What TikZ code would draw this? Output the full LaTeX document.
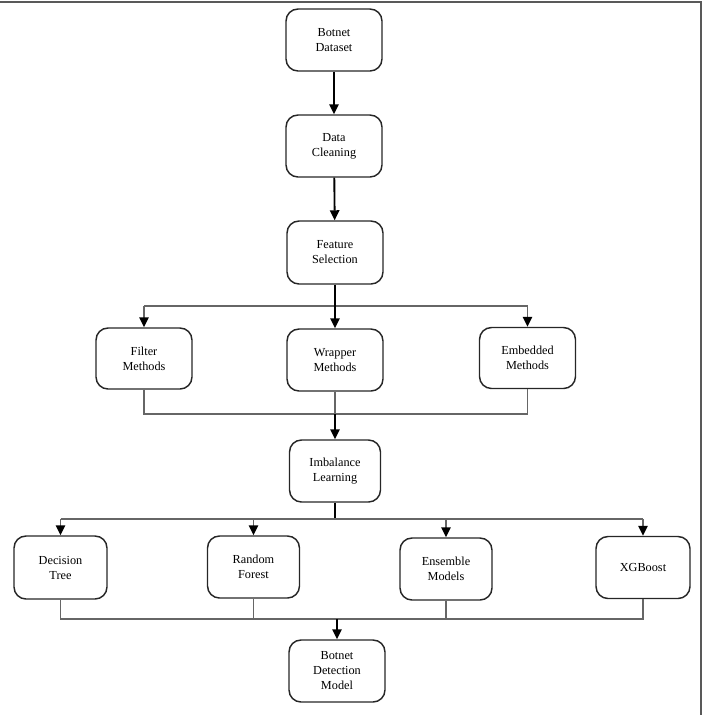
\documentclass[tikz,border=0pt]{standalone}
\usepackage{fontspec}
\setmainfont{Liberation Serif}
\newfontfamily\boxfont{Liberation Serif}
\usetikzlibrary{arrows.meta}
\begin{document}
\begin{tikzpicture}[x=0.75pt,y=-0.75pt,
  box/.style={draw=black!85, line width=1.1pt, rounded corners=9pt, minimum width=72pt, minimum height=46.5pt, align=center, font=\boxfont\fontsize{9.2}{11.25}\selectfont, inner sep=2pt},
  main/.style={draw=black, line width=1.4pt, -{Triangle[width=7pt,length=7.5pt]}},
  stem/.style={draw=black, line width=1.2pt},
  branch/.style={draw=black!60, line width=1.1pt},
  barrow/.style={branch, -{Triangle[width=7pt,length=7.5pt,color=black]}},
]
\useasboundingbox (0,0) rectangle (705,715);
\draw[black!65, line width=1.5pt] (0,1.5) -- (701,1.5) -- (701,715);

\node[box] (ds) at (334,40) {Botnet\\Dataset};
\node[box] (dc) at (334,146) {Data\\Cleaning};
\node[box, minimum height=47.25pt] (fs) at (335,252.5) {Feature\\Selection};
\node[box, minimum height=45.75pt] (fm) at (144,358.5) {Filter\\Methods};
\node[box] (wm) at (335,360) {Wrapper\\Methods};
\node[box, minimum height=45.75pt] (em) at (527.5,358) {Embedded\\Methods};
\node[box, minimum width=68.25pt] (il) at (335,471) {Imbalance\\Learning};
\node[box, minimum width=69.75pt, minimum height=47.25pt] (dt) at (60.5,567.5) {Decision\\Tree};
\node[box, minimum width=69pt] (rf) at (253.5,567) {Random\\Forest};
\node[box, minimum width=69pt] (en) at (446,569) {Ensemble\\Models};
\node[box, minimum width=70.5pt] (xg) at (643,567.5) {XGBoost};
\node[box] (bd) at (337,671) {Botnet\\Detection\\Model};

\coordinate (j0) at (335,306);
\coordinate (j1) at (335,414);
\coordinate (j2) at (335,519);
\coordinate (j3) at (337,619);

\draw[main] (ds) -- (dc);
\draw[main] (dc) -- (fs);

\draw[branch] (fm.north |- j0) -- (em.north |- j0);
\draw[barrow] (fm.north |- j0) -- (fm.north);
\draw[barrow] (em.north |- j0) -- (em.north);
\draw[main] (fs) -- (wm);

\draw[branch] (fm.south) -- (fm.south |- j1) -- (em.south |- j1) -- (em.south);
\draw[branch] (wm.south) -- (j1);
\draw[main] (j1) -- (il.north);

\draw[stem] (il.south) -- (j2);
\draw[branch] (dt.north |- j2) -- (xg.north |- j2);
\draw[barrow] (dt.north |- j2) -- (dt.north);
\draw[barrow] (rf.north |- j2) -- (rf.north);
\draw[barrow] (en.north |- j2) -- (en.north);
\draw[barrow] (xg.north |- j2) -- (xg.north);

\draw[branch] (dt.south) -- (dt.south |- j3) -- (xg.south |- j3) -- (xg.south);
\draw[branch] (rf.south) -- (rf.south |- j3);
\draw[branch] (en.south) -- (en.south |- j3);
\draw[main] (j3) -- (bd.north);
\end{tikzpicture}
\end{document}
